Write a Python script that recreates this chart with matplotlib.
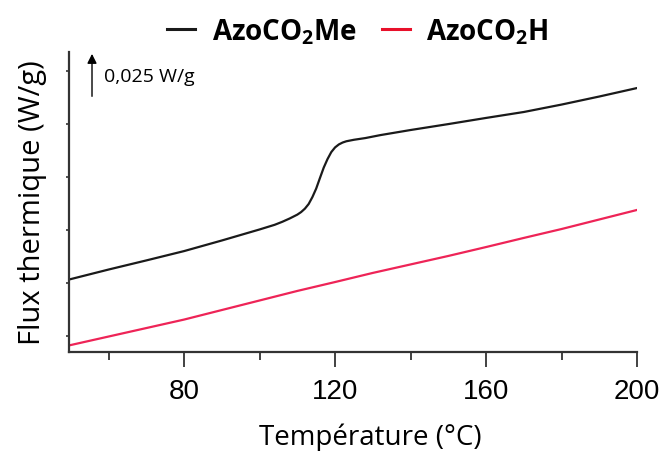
import matplotlib
matplotlib.use("Agg")
import matplotlib.pyplot as plt
import numpy as np

plt.rcParams['mathtext.default'] = 'regular'

# --- data ---
temp_me = [50, 60, 70, 80, 90, 100, 104, 106, 108, 110, 111, 112, 113, 114, 115, 116, 117,
           118, 119, 120, 121, 122, 123, 125, 128, 132, 140, 150, 160, 170, 180, 190, 200]
flux_me = [0.0344, 0.0389, 0.0432, 0.0476, 0.0526, 0.0578, 0.0600, 0.0614, 0.0630, 0.0648,
           0.0660, 0.0676, 0.0698, 0.0731, 0.0771, 0.0821, 0.0870, 0.0910, 0.0943, 0.0965,
           0.0979, 0.0988, 0.0994, 0.1001, 0.1009, 0.1023, 0.1047, 0.1075, 0.1104, 0.1132,
           0.1167, 0.1205, 0.1245]

temp_h = [50, 60, 70, 80, 90, 100, 110, 120, 130, 140, 150, 160, 170, 180, 190, 200]
flux_h = [0.0033, 0.0073, 0.0113, 0.0153, 0.0198, 0.0243, 0.0288, 0.0330, 0.0373,
          0.0413, 0.0453, 0.0495, 0.0538, 0.0580, 0.0625, 0.0670]

labels = [r'AzoCO$_2$Me', r'AzoCO$_2$H']
x_major = [80, 120, 160, 200]
x_minor = [60, 100, 140, 180]
y_ticks = [0.0075, 0.0325, 0.0575, 0.0825, 0.1075, 0.1325]
scale_label = '0,025 W/g'

fig = plt.figure(figsize=(6.64, 4.52), dpi=100)
ax = fig.add_axes([69/664, 1-353/452, (637-69)/664, 300/452])

l1, = ax.plot(temp_me, flux_me, color='#1a1a1a', lw=1.6)
l2, = ax.plot(temp_h, flux_h, color='#ee2457', lw=1.6)

ax.set_xlim(49.5, 200)
ax.set_ylim(0, 0.1415)

for s in ['top', 'right']:
    ax.spines[s].set_visible(False)
for s in ['left', 'bottom']:
    ax.spines[s].set_linewidth(1.6)
    ax.spines[s].set_color('#333333')

ax.set_xticks(x_major)
ax.set_xticks(x_minor, minor=True)
ax.tick_params(axis='x', which='major', direction='out', length=11, width=1.3,
               colors='#333333', labelcolor='black', pad=8)
ax.tick_params(axis='x', which='minor', direction='out', length=6, width=1.3, colors='#333333')
for t in ax.get_xticklabels():
    t.set_fontfamily('Liberation Sans')
    t.set_fontsize(20)
ax.set_yticks(y_ticks)
ax.set_yticklabels([])
ax.tick_params(axis='y', direction='out', length=2.5, width=1.2, colors='#333333')

ax.set_xlabel('Température (°C)', fontfamily='Open Sans', fontsize=20)
ax.xaxis.set_label_coords(0.53, -0.235)
ax.set_ylabel('Flux thermique (W/g)', fontfamily='Open Sans', fontsize=21, labelpad=10)

# scale arrow
ax.annotate('', xy=(0.0405, 1.003), xytext=(0.0405, 0.843), xycoords='axes fraction',
            arrowprops=dict(arrowstyle='-|>', color='black', lw=1.0, mutation_scale=14),
            annotation_clip=False)
ax.text(0.062, 0.92, scale_label, transform=ax.transAxes, fontfamily='Open Sans',
        fontsize=14, va='center', ha='left')

leg = fig.legend([l1, l2], labels, loc='center', bbox_to_anchor=(0.539, 1-32/452),
                 ncol=2, frameon=False, handlelength=1.0, handletextpad=0.6,
                 columnspacing=0.9, prop={'family': 'Open Sans', 'weight': 'bold', 'size': 20})
for h in leg.legend_handles:
    h.set_linewidth(2.2)
leg.legend_handles[1].set_color('#e8102a')

fig.savefig('out.png', dpi=100)
